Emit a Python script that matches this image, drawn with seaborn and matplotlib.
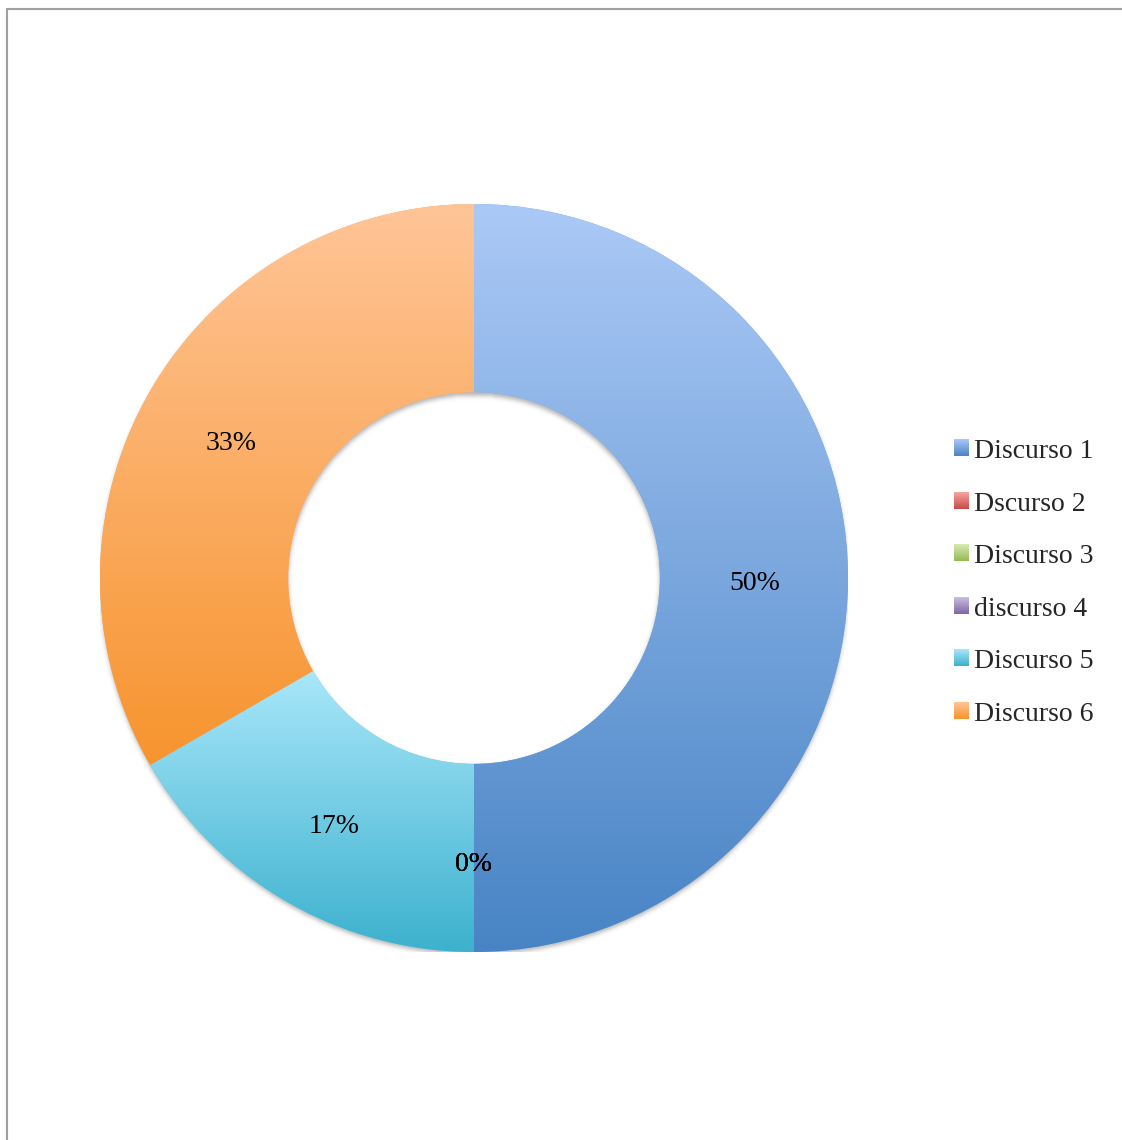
import numpy as np
import matplotlib
matplotlib.use("Agg")
import matplotlib.pyplot as plt
import seaborn as sns
from matplotlib.colors import to_rgb
from matplotlib.legend_handler import HandlerBase
from matplotlib.image import BboxImage
from matplotlib.transforms import Bbox, TransformedBbox, ScaledTranslation
from matplotlib.lines import Line2D
from matplotlib.patches import Patch

# Speeches and how many times each was chosen
speeches = ["Discurso 1", "Dscurso 2", "Discurso 3", "discurso 4", "Discurso 5", "Discurso 6"]
counts = [3, 0, 0, 0, 1, 2]

# Vertical gradient for every slice: light at the top, saturated at the bottom
top_colors = ["#abc9f6", "#f5a5a2", "#d7ebb2", "#ccbde2", "#a9e7fa", "#ffc597"]
bottom_colors = ["#4884c5", "#cb4a46", "#96ba56", "#7f66a7", "#3cb1ce", "#f7942e"]

sns.set_theme(style="white")
plt.rcParams["font.family"] = ["Liberation Serif", "DejaVu Serif"]

W, H = 1122, 1140
fig = plt.figure(figsize=(W / 100, H / 100), dpi=100)
fig.patch.set_facecolor("white")

cx, cy, R = 474, 578, 374
ax = fig.add_axes([(cx - R) / W, (H - cy - R) / H, 2 * R / W, 2 * R / H])


def gradient(top, bottom, n=256):
    t = np.linspace(0, 1, n)[:, None]
    a = np.array(to_rgb(top))
    b = np.array(to_rgb(bottom))
    return (a * (1 - t) + b * t)[:, None, :]


def blur1d(arr, sigma, axis):
    k = int(3 * sigma) + 1
    x = np.arange(-k, k + 1)
    ker = np.exp(-0.5 * (x / sigma) ** 2)
    ker /= ker.sum()
    return np.apply_along_axis(lambda v: np.convolve(v, ker, mode="same"), axis, arr)


RING = 0.503

# soft drop shadow under the ring
n = 700
lim = 1.1
g = np.linspace(-lim, lim, n)
xx, yy = np.meshgrid(g, g[::-1])
rr = np.hypot(xx, yy + 0.008)
mask = ((rr <= 1.0) & (rr >= 1 - RING)).astype(float)
px = n / (2 * lim)
mask = blur1d(blur1d(mask, 0.006 * px, 0), 0.006 * px, 1)
shadow = np.zeros((n, n, 4))
shadow[..., :3] = 0.35
shadow[..., 3] = 0.45 * mask
ax.imshow(shadow, extent=(-lim, lim, -lim, lim), zorder=0, interpolation="bilinear")

wedges, texts, autotexts = ax.pie(
    counts,
    startangle=90,
    counterclock=False,
    autopct="%1.0f%%",
    pctdistance=0.75,
    radius=1.0,
    colors=bottom_colors,
    wedgeprops=dict(width=RING, linewidth=0),
    textprops=dict(fontsize=20, color="black"),
)

for w, top, bot, c in zip(wedges, top_colors, bottom_colors, counts):
    w.set_zorder(1)
    if c == 0:
        continue
    ext = w.get_path().get_extents()
    mid = 0.5 * (np.array(to_rgb(top)) + np.array(to_rgb(bot)))
    w.set_facecolor(mid)
    im = ax.imshow(
        gradient(top, bot),
        extent=(ext.x0, ext.x1, ext.y0, ext.y1),
        origin="upper",
        aspect="auto",
        interpolation="bilinear",
        zorder=2,
    )
    im.set_clip_path(w)

# percentage labels sit a little below the ring's mid-line
shift = ScaledTranslation(0, -6 / 100, fig.dpi_scale_trans)
for t in autotexts:
    t.set_zorder(5)
    t.set_transform(ax.transData + shift)

ax.set_aspect("equal")
ax.set_xlim(-1, 1)
ax.set_ylim(-1, 1)
ax.set_axis_off()


class GradientSquare(HandlerBase):
    def __init__(self, top, bottom):
        super().__init__()
        self.top, self.bottom = top, bottom

    def create_artists(self, legend, orig_handle, xdescent, ydescent,
                       width, height, fontsize, trans):
        bb = TransformedBbox(Bbox.from_bounds(-xdescent, -ydescent, width, height), trans)
        img = BboxImage(bb, interpolation="bilinear")
        img.set_data(gradient(self.top, self.bottom, 64))
        return [img]


handles = [Patch(facecolor=b) for b in bottom_colors]
hmap = {h: GradientSquare(t, b) for h, t, b in zip(handles, top_colors, bottom_colors)}
fig.legend(
    handles,
    speeches,
    handler_map=hmap,
    loc="center left",
    bbox_to_anchor=(954 / W, 1 - 583 / H),
    frameon=False,
    fontsize=20,
    handlelength=0.52,
    handleheight=0.52,
    handletextpad=0.2,
    labelspacing=0.99,
    borderpad=0,
    borderaxespad=0,
)

# thin grey frame lines along the top and left edge
fig.add_artist(Line2D([7 / W, 1], [1 - 9 / H] * 2, transform=fig.transFigure,
                      color="#a0a0a0", lw=1.5))
fig.add_artist(Line2D([7 / W] * 2, [0, 1 - 9 / H], transform=fig.transFigure,
                      color="#a0a0a0", lw=1.5))

fig.savefig("out.png", dpi=100, facecolor="white")
